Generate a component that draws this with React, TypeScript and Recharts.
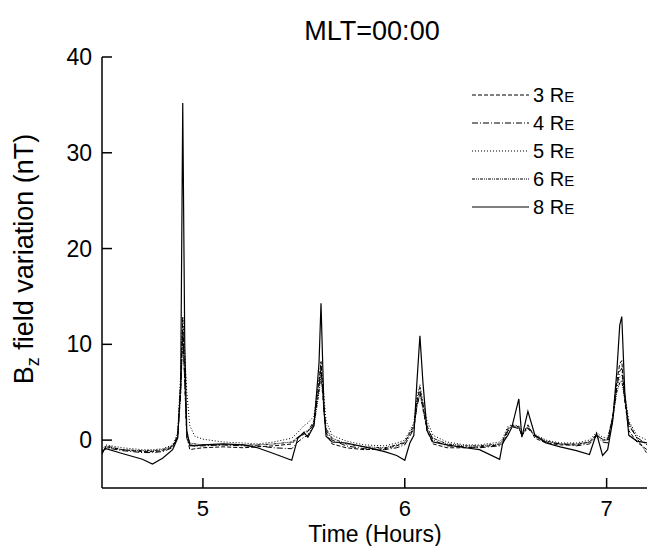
import React from 'react'
import { LineChart, Line, XAxis, YAxis, Legend } from 'recharts'

// time in hours
const times = [
  4.5, 4.52, 4.6, 4.7, 4.75, 4.8, 4.85, 4.875, 4.89, 4.9,
  4.91, 4.92, 4.935, 4.96, 5.0, 5.1, 5.2, 5.27, 5.35, 5.44,
  5.47, 5.5, 5.52, 5.55, 5.575, 5.585, 5.6, 5.61, 5.64, 5.71,
  5.8, 5.9, 5.96, 6.0, 6.025, 6.045, 6.06, 6.075, 6.09, 6.11,
  6.14, 6.21, 6.3, 6.37, 6.47, 6.485, 6.51, 6.53, 6.565, 6.58,
  6.61, 6.645, 6.7, 6.77, 6.85, 6.915, 6.95, 6.98, 7.005, 7.03,
  7.05, 7.065, 7.075, 7.09, 7.11, 7.15, 7.2,
]

const re3 = [
  -1.5, -0.6, -1.0, -1.2, -1.2, -1.1, -0.7, 0.5, 6, 12.8,
  6, 0.5, -1.0, -0.9, -0.8, -0.7, -0.8, -0.7, -0.6, -0.4,
  0.3, 0.6, 0.9, 2, 6, 8.2, 3, 0.8, -0.4, -0.8,
  -1.0, -0.9, -0.6, -0.3, 0.8, 1.5, 4, 5.5, 3.5, 1.0,
  -0.4, -0.8, -0.8, -0.7, -0.5, -0.2, 1.2, 1.5, 1.4, 0.4,
  1.6, 0.2, -0.3, -0.5, -0.5, -0.2, 0.6, 0.0, 0.0, 2.5,
  6, 8.0, 8.3, 4, 1.0, -0.2, -1.0,
]

const re4 = [
  -1.2, -0.8, -1.1, -1.3, -1.3, -1.2, -0.8, 0.3, 5, 11.5,
  7, 0.2, -0.6, -0.6, -0.6, -0.5, -0.6, -0.6, -0.8, -0.9,
  -0.2, 0.3, 0.5, 1.8, 5.5, 7.5, 3.5, 1.0, 0.0, -0.6,
  -0.9, -1.0, -0.8, -0.5, 0.4, 1.2, 3.5, 5.0, 3.8, 1.5,
  0.0, -0.6, -0.7, -0.8, -0.6, -0.4, 0.9, 1.4, 1.2, 0.5,
  1.3, 0.4, -0.2, -0.4, -0.6, -0.4, 0.4, -0.2, -0.3, 2.0,
  5.5, 7.2, 7.5, 4.5, 1.5, 0.3, -0.5,
]

const re5 = [
  -1.0, -0.5, -0.8, -1.0, -1.0, -0.9, -0.5, 0.8, 7, 12.9,
  9, 5, 1.5, 0.4, 0.1, -0.2, -0.3, -0.4, -0.2, 0.2,
  0.8, 1.5, 1.8, 2.5, 6.5, 8.0, 4.5, 2.0, 0.5, -0.1,
  -0.5, -0.6, -0.3, 0.0, 1.0, 1.8, 4.5, 5.8, 4.0, 2.0,
  0.5, -0.2, -0.5, -0.5, -0.2, 0.2, 1.4, 1.6, 1.5, 0.8,
  1.4, 0.6, 0.0, -0.3, -0.3, 0.0, 0.8, 0.3, 0.2, 2.5,
  5.5, 6.6, 6.8, 4.8, 2.0, 0.5, 0.0,
]

const re6 = [
  -1.3, -0.7, -1.0, -1.1, -1.1, -1.0, -0.6, 0.4, 5, 10.8,
  6, 0.6, -0.3, -0.4, -0.5, -0.5, -0.5, -0.5, -0.4, -0.2,
  0.3, 0.8, 1.0, 1.5, 5, 6.8, 3, 1.2, 0.2, -0.4,
  -0.7, -0.8, -0.5, -0.2, 0.6, 1.3, 3.5, 4.8, 3.2, 1.2,
  0.2, -0.4, -0.6, -0.6, -0.4, 0.0, 1.0, 1.5, 1.3, 0.6,
  1.2, 0.5, -0.1, -0.4, -0.4, -0.2, 0.5, 0.1, 0.0, 2.2,
  5.0, 6.0, 6.2, 4.2, 1.8, 0.2, -1.4,
]

const re8 = [
  -1.2, -0.9, -1.4, -2.0, -2.5, -1.9, -1.0, 0.2, 6, 35.2,
  10, 1.0, -0.5, -0.6, -0.5, -0.4, -0.5, -0.8, -1.4, -2.1,
  0.2, 0.8, 0.3, 1.5, 8, 14.3, 3, 0.4, -0.2, -0.3,
  -0.7, -1.2, -1.6, -2.1, -0.3, 0.5, 6, 10.9, 6, 1.0,
  -0.2, -0.5, -0.8, -1.0, -2.0, -0.3, 0.5, 1.3, 4.3, 0.3,
  3.0, 0.5, -0.3, -0.7, -1.1, -1.5, 0.7, -1.6, -1.0, 2.0,
  7, 12.0, 12.9, 5, 0.5, -0.1, -0.3,
]

const series = [
  { key: 're3', label: '3', dash: '4 2', width: 1 },
  { key: 're4', label: '4', dash: '6 2 1 2', width: 1 },
  { key: 're5', label: '5', dash: '1 2', width: 1 },
  { key: 're6', label: '6', dash: '3 1 1 1 1 1', width: 1 },
  { key: 're8', label: '8', dash: undefined, width: 1.2 },
]

const xMajor = [5, 6, 7]
const xMinor = [
  4.6667, 4.8333, 5.1667, 5.3333, 5.5, 5.6667, 5.8333,
  6.1667, 6.3333, 6.5, 6.6667, 6.8333, 7.1667,
]
const yMajor = [0, 10, 20, 30, 40]
const yMinor = [5, 15, 25, 35]

const data = times.map((t, i) => ({
  t, re3: re3[i], re4: re4[i], re5: re5[i], re6: re6[i], re8: re8[i],
}))

const FONT = '"Liberation Sans", Arial, Helvetica, sans-serif'
const X_DOMAIN: [number, number] = [4.5, 7.2]
const Y_DOMAIN: [number, number] = [-5, 40]
const tickLine = { stroke: '#000', strokeWidth: 1.5 }
const axisLine = { stroke: '#000', strokeWidth: 1.5 }
const tickFont = { fontSize: 22, fill: '#000', fontFamily: FONT }

function LegendBox() {
  return (
    <svg width={170} height={140}>
      {series.map((s, i) => {
        const cy = 15 + i * 28
        return (
          <g key={s.key}>
            <line x1={7} x2={64} y1={cy} y2={cy} stroke="#000" strokeWidth={1} strokeDasharray={s.dash} />
            <text x={68} y={cy + 7} fontSize={20} fontFamily={FONT} fill="#000">
              {s.label} R<tspan fontSize={15}>E</tspan>
            </text>
          </g>
        )
      })}
    </svg>
  )
}

export default function App() {
  return (
    <div style={{ position: 'absolute', left: 0, top: 0, background: '#fff' }}>
      <LineChart width={652} height={546} data={data} margin={{ top: 57, right: 5, bottom: 0, left: 0 }}>
        {/* minor ticks first so they sit on the frame */}
        <XAxis
          xAxisId="bMinor" type="number" dataKey="t" domain={X_DOMAIN} ticks={xMinor} interval={0}
          allowDataOverflow height={0} tickSize={-6} tickLine={tickLine} axisLine={false} tick={false} stroke="#000"
        />
        <XAxis
          xAxisId="b" type="number" dataKey="t" domain={X_DOMAIN} ticks={xMajor} interval={0}
          allowDataOverflow height={58} tickSize={-10} tickMargin={22} tickLine={tickLine}
          axisLine={axisLine} tick={tickFont} stroke="#000"
        />
        <XAxis
          xAxisId="tMinor" orientation="top" type="number" dataKey="t" domain={X_DOMAIN} ticks={xMinor}
          interval={0} allowDataOverflow height={0} tickSize={-6} tickLine={tickLine} axisLine={false}
          tick={false} stroke="#000"
        />
        <XAxis
          xAxisId="t" orientation="top" type="number" dataKey="t" domain={X_DOMAIN} ticks={xMajor}
          interval={0} allowDataOverflow height={0} tickSize={-10} tickLine={tickLine} axisLine={axisLine}
          tick={false} stroke="#000"
        />
        <YAxis
          yAxisId="lMinor" type="number" domain={Y_DOMAIN} ticks={yMinor} interval={0} allowDataOverflow
          width={0} tickSize={-6} tickLine={tickLine} axisLine={false} tick={false} stroke="#000"
        />
        <YAxis
          yAxisId="l" type="number" domain={Y_DOMAIN} ticks={yMajor} interval={0} allowDataOverflow
          width={102} tickSize={-10} tickMargin={20} tickLine={tickLine} axisLine={axisLine}
          tick={{ ...tickFont, fontSize: 23 }} stroke="#000"
        />
        <YAxis
          yAxisId="rMinor" orientation="right" type="number" domain={Y_DOMAIN} ticks={yMinor} interval={0}
          allowDataOverflow width={0} tickSize={-6} tickLine={tickLine} axisLine={false} tick={false} stroke="#000"
        />
        <YAxis
          yAxisId="r" orientation="right" type="number" domain={Y_DOMAIN} ticks={yMajor} interval={0}
          allowDataOverflow width={0} tickSize={-10} tickLine={tickLine} axisLine={axisLine} tick={false} stroke="#000"
        />
        <Legend
          layout="horizontal" verticalAlign="middle" align="center"
          wrapperStyle={{ left: 465, top: 80, width: 170, height: 140 }}
          content={() => <LegendBox />}
        />
        {series.map((s) => (
          <Line
            key={s.key} xAxisId="b" yAxisId="l" type="linear" dataKey={s.key} stroke="#000"
            strokeWidth={s.width} strokeDasharray={s.dash} dot={false} activeDot={false}
            isAnimationActive={false}
          />
        ))}
        <text x={372} y={40} textAnchor="middle" fontSize={27} fontFamily={FONT} fill="#000">
          MLT=00:00
        </text>
        <text x={375} y={542} textAnchor="middle" fontSize={23} fontFamily={FONT} fill="#000">
          Time (Hours)
        </text>
        <text transform="translate(33,259) rotate(-90)" textAnchor="middle" fontSize={27} fontFamily={FONT} fill="#000">
          B<tspan fontSize={18} dy={6}>z</tspan><tspan dy={-6}> field variation (nT)</tspan>
        </text>
      </LineChart>
    </div>
  )
}
